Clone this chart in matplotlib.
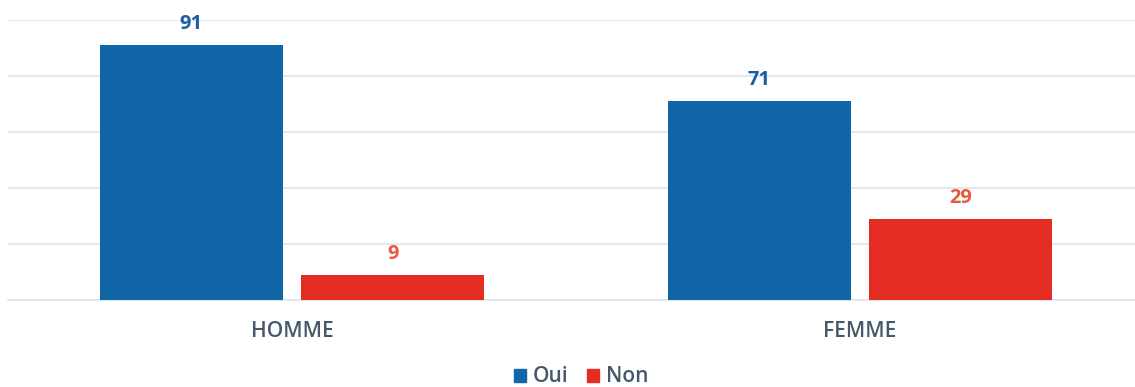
import numpy as np
import matplotlib.pyplot as plt
from matplotlib.patches import Patch

categories = ["HOMME", "FEMME"]
oui = [91, 71]
non = [9, 29]

BLUE = "#1166A8"
RED = "#E42D22"
BLUE_TXT = "#1A5FA3"
RED_TXT = "#EA5A3C"
GREY = "#46586A"

plt.rcParams["font.family"] = ["Open Sans", "DejaVu Sans"]

fig = plt.figure(figsize=(11.35, 3.87), dpi=100)
ax = fig.add_axes([8 / 1135, 87 / 387, 1136 / 1135, 280 / 387])

x = np.arange(len(categories))
w = 0.322
gap = 0.033
b1 = ax.bar(x - w / 2 - gap / 2, oui, w, color=BLUE, zorder=3)
b2 = ax.bar(x + w / 2 + gap / 2, non, w, color=RED, zorder=3)

for bars, vals, c in [(b1, oui, BLUE_TXT), (b2, non, RED_TXT)]:
    for r, v in zip(bars, vals):
        ax.annotate(str(v), (r.get_x() + r.get_width() / 2, v),
                    xytext=(0, 8), textcoords="offset points",
                    ha="center", va="bottom", fontsize=14.5, fontweight="bold",
                    color=c, clip_on=False)

ax.set_xlim(-0.5, 1.5)
ax.set_ylim(0, 100)
ax.set_yticks(np.arange(0, 101, 20))
ax.yaxis.grid(True, color="#DCE4EE", linewidth=1.2, zorder=0)
ax.set_yticklabels([])
ax.tick_params(axis="y", length=0)
ax.set_xticks(x)
ax.set_xticklabels(categories, fontsize=15, color=GREY, fontweight="semibold")
ax.tick_params(axis="x", length=0, pad=15)
for s in ["top", "right", "left"]:
    ax.spines[s].set_visible(False)
ax.spines["bottom"].set_color("#DCE4EE")
ax.spines["bottom"].set_linewidth(1.2)

handles = [Patch(color=BLUE, label="Oui"), Patch(color=RED, label="Non")]
fig.legend(handles=handles, loc="center", bbox_to_anchor=(581 / 1135, 10 / 387),
           ncol=2, frameon=False, handlelength=0.6, handleheight=0.6,
           handletextpad=0.3, columnspacing=0.9, labelcolor=GREY,
           prop={"weight": "semibold", "size": 15})

fig.savefig("out.png", dpi=100)
